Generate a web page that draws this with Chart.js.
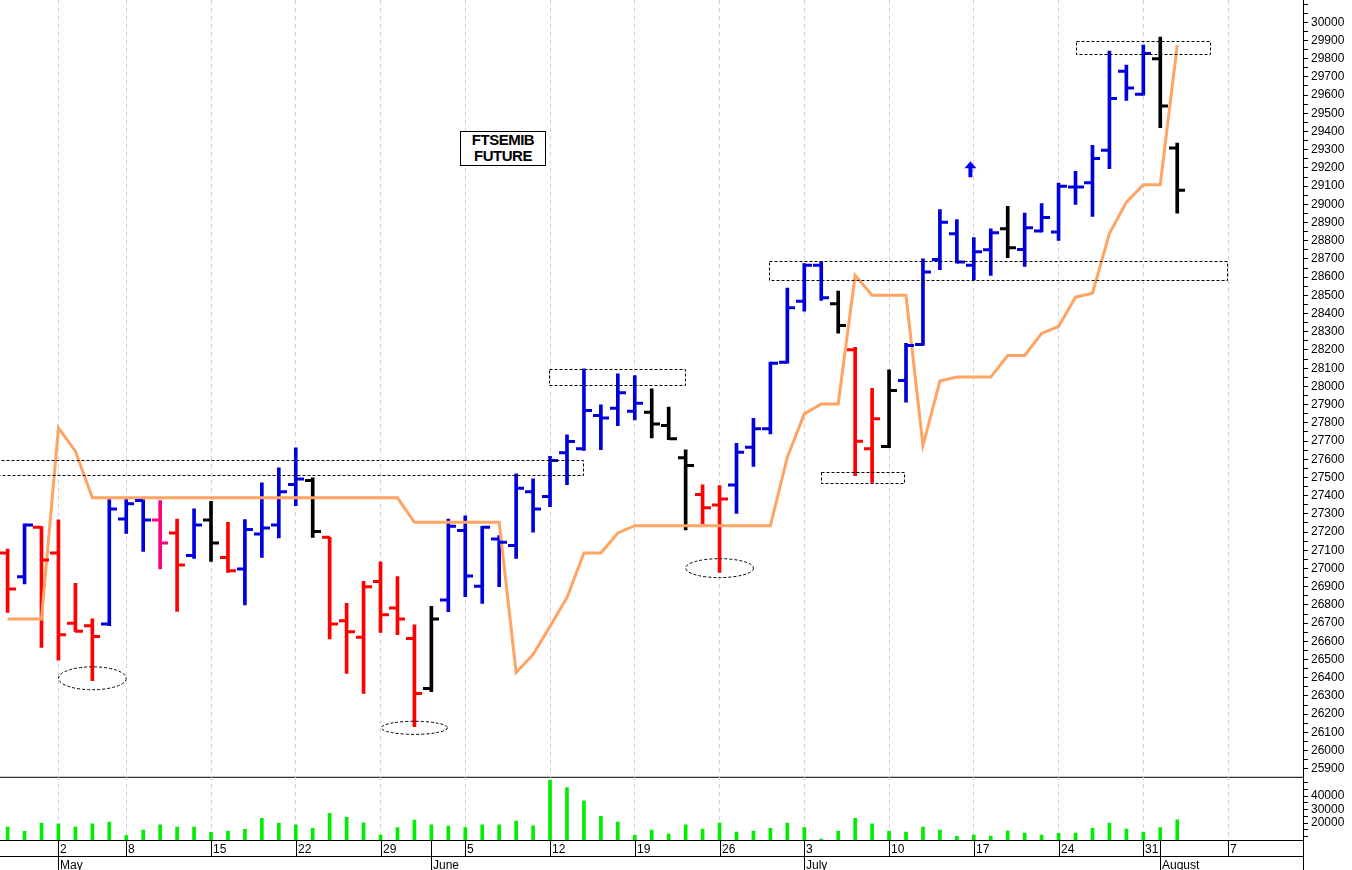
<!DOCTYPE html>
<html>
<head>
<meta charset="utf-8">
<script src="https://cdn.jsdelivr.net/npm/chart.js@4.4.0/dist/chart.umd.min.js"></script>
<style>
  body { margin: 0; background: #fff; }
  #wrap { position: relative; width: 1352px; height: 870px; overflow: hidden; }
  canvas { position: absolute; left: 0; }
  #title {
    position: absolute; left: 460px; top: 131px; width: 84px; height: 33px;
    border: 1px solid #000; background: #fff; text-align: center;
    font: bold 15px "Liberation Sans", Arial, sans-serif; line-height: 16px; letter-spacing: -0.5px;
  }
</style>
</head>
<body>
<div id="wrap">
  <canvas id="priceChart" width="1352" height="797" style="top:-10px"></canvas>
  <canvas id="volChart" width="1352" height="104" style="top:766px"></canvas>
  <div id="title">FTSEMIB<br>FUTURE</div>
</div>
<script>
// daily OHLC, trading day index 0 = 26 Apr
const opens = [27085,26955,27226,27085,26699,26686,26695,27272,27373,27267,
  27195,27071,27267,27061,26997,27190,27239,27461,27483,27171,
  26713,26622,26928,26783,26616,26341,26827,27208,26902,27162,
  27126,27422,27395,27635,27657,27840,27880,27864,27858,27785,
  27608,27406,27349,27459,27666,27767,28133,28467,28665,28454,
  28201,27657,27670,28032,28230,28697,28839,28665,28751,28866,
  28752,28853,28848,29095,29119,29297,29731,29604,29800,29309];
const highs = [27107,27245,27230,27267,26918,26723,27378,27378,27377,27373,
  27272,27327,27369,27254,27268,27470,27553,27663,27498,27171,
  26808,26929,27036,26955,26690,26792,27272,27289,27232,27181,
  27520,27492,27616,27734,28097,27899,28069,28060,27987,27886,
  27652,27459,27455,27688,27825,28133,28540,28674,28686,28523,
  28215,27990,28091,28237,28701,28971,28916,28818,28866,28989,
  28952,29004,29117,29181,29324,29842,29764,29874,29919,29337];
const lows = [26759,26915,26567,26497,26655,26384,26686,27193,27094,26997,
  26764,27056,27039,26979,26800,27061,27168,27345,27171,26613,
  26424,26314,26649,26636,26131,26323,26763,26845,26808,26900,
  27056,27199,27340,27461,27648,27652,27785,27816,27717,27707,
  27212,27245,26979,27303,27560,27739,28127,28413,28472,28292,
  27510,27473,27663,27913,28225,28641,28677,28585,28610,28707,
  28659,28848,28802,29000,28934,29196,29571,29599,29421,28952];
const closes = [26888,27239,27047,26636,26655,26627,27327,27355,27267,27140,
  27019,27239,27140,26988,27214,27223,27422,27492,27203,26695,
  26653,26900,26746,26723,26314,26723,27232,26959,27226,27144,
  27440,27327,27593,27697,27868,27827,27965,27908,27794,27712,
  27565,27333,27382,27638,27767,28127,28432,28665,28487,28335,
  27699,27822,27977,28225,28628,28902,28683,28740,28844,28762,
  28872,28927,29099,29095,29251,29581,29639,29828,29540,29077];
// r = down, b = up, k = neutral, m = signal
const barState = 'rbrrrrbbbmrbkrbbbbkrrrrrrkbbbbbbbbbbbbkkkrrbbbbbbkrrkbbbbbbkbbbbbbbbkk'.split('');
const trendLine = [26723,26723,26723,27772,27644,27388,27388,27388,27388,27388,
  27388,27388,27388,27388,27388,27388,27388,27388,27388,27388,
  27388,27388,27388,27388,27254,27254,27254,27254,27254,27254,
  26429,26527,26682,26840,27085,27085,27195,27235,27235,27235,
  27235,27235,27235,27235,27235,27235,27611,27849,27904,27904,
  28610,28500,28500,28500,27675,28029,28051,28051,28051,28170,
  28170,28291,28329,28490,28512,28839,29012,29108,29108,29874];
const volumes = [17080,13930,20000,19510,17080,19510,20730,10770,14900,18790,
  17080,17080,13200,14170,15380,23650,20000,18790,16110,27290,
  24370,20240,11250,16840,22190,18790,17810,16840,18790,18790,
  21460,18060,51600,46240,36520,25100,20730,11000,14900,12000,
  18790,15630,20000,13440,14170,16110,20000,16840,8340,14170,
  23650,19510,14170,13440,17080,14900,10280,11250,10520,14170,
  12710,11250,12470,12710,16110,20000,15630,13440,16840,22430];
// week start labels (index, day) and month labels
const weekIdx = [3,7,12,17,22,27,32,37,42,47,52,57,62,67,72];
const weekText = ['2','8','15','22','29','5','12','19','26','3','10','17','24','31','7'];
const monthIdx = [3,25,47,68];
const monthText = ['May','June','July','August'];
// annotations: dotted boxes [x0, x1, priceTop, priceBottom]
const boxes = [[-1,33.9,27597,27516],[31.95,39.95,28097,28009],[44.9,71.9,28690,28586],
  [63,70.9,29897,29828],[48,52.9,27528,27470]];
// dotted ellipses [xCenter, price, xRadius, priceRadius]
const ellipses = [[5,26397,2,63],[24,26125,1.95,36],[42,27002,2,52]];
const arrowAt = [56.8,29187];

const COLORS = { r: '#ff0000', b: '#0000dd', k: '#000000', m: '#ff0080' };
const XMIN = -0.448, XMAX = 76.42;
const FONT = '"Liberation Sans", Arial, sans-serif';

function weekGrid(scale) {
  scale.ticks = weekIdx.map(v => ({ value: v }));
}

const ohlcTicks = {
  id: 'ohlcTicks',
  afterDatasetsDraw(chart) {
    const { ctx, scales: { x, y } } = chart;
    ctx.save();
    ctx.lineWidth = 3;
    opens.forEach((o, i) => {
      const px = Math.round(x.getPixelForValue(i));
      ctx.strokeStyle = COLORS[barState[i]];
      ctx.beginPath();
      ctx.moveTo(px - 8, y.getPixelForValue(o));
      ctx.lineTo(px, y.getPixelForValue(o));
      ctx.moveTo(px, y.getPixelForValue(closes[i]));
      ctx.lineTo(px + 8, y.getPixelForValue(closes[i]));
      ctx.stroke();
    });
    ctx.restore();
  }
};

const annotations = {
  id: 'annotations',
  afterDraw(chart) {
    const { ctx, scales: { x, y }, chartArea } = chart;
    ctx.save();
    ctx.strokeStyle = '#000';
    ctx.lineWidth = 1;
    ctx.setLineDash([3, 2]);
    boxes.forEach(b => {
      const x0 = x.getPixelForValue(b[0]), x1 = x.getPixelForValue(b[1]);
      const y0 = y.getPixelForValue(b[2]), y1 = y.getPixelForValue(b[3]);
      ctx.strokeRect(Math.round(x0) + 0.5, Math.round(y0) + 0.5, Math.round(x1 - x0), Math.round(y1 - y0));
    });
    ellipses.forEach(e => {
      const cx = x.getPixelForValue(e[0]), cy = y.getPixelForValue(e[1]);
      const rx = x.getPixelForValue(e[0] + e[2]) - cx;
      const ry = y.getPixelForValue(e[1] - e[3]) - cy;
      ctx.beginPath();
      ctx.ellipse(cx, cy, rx, ry, 0, 0, Math.PI * 2);
      ctx.stroke();
    });
    ctx.setLineDash([]);
    // signal arrow
    const ax = x.getPixelForValue(arrowAt[0]), ay = y.getPixelForValue(arrowAt[1]);
    ctx.fillStyle = '#0000ee';
    ctx.beginPath();
    ctx.moveTo(ax, ay - 9);
    ctx.lineTo(ax + 6, ay - 2);
    ctx.lineTo(ax + 2, ay - 2);
    ctx.lineTo(ax + 2, ay + 7);
    ctx.lineTo(ax - 2, ay + 7);
    ctx.lineTo(ax - 2, ay - 2);
    ctx.lineTo(ax - 6, ay - 2);
    ctx.closePath();
    ctx.fill();
    // panel separator
    ctx.fillStyle = '#000';
    ctx.fillRect(0, chartArea.bottom, chartArea.right, 1);
    ctx.restore();
  }
};

const idx = opens.map((_, i) => i);
const gridX = {
  type: 'linear', min: XMIN, max: XMAX, offset: false,
  afterBuildTicks: weekGrid,
  ticks: { display: false },
  border: { display: false, dash: [4, 4] },
  grid: { color: '#d0d0d0', drawTicks: false, offset: false }
};

new Chart(document.getElementById('priceChart'), {
  type: 'bar',
  data: {
    datasets: [
      {
        type: 'line',
        data: idx.map(i => ({ x: i, y: trendLine[i] })),
        borderColor: '#ffa462',
        borderWidth: 3,
        pointRadius: 0,
        tension: 0,
        order: 0
      },
      {
        data: idx.map(i => ({ x: i, y: [lows[i], highs[i]] })),
        backgroundColor: barState.map(s => COLORS[s]),
        barThickness: 3,
        order: 1
      }
    ]
  },
  options: {
    responsive: false,
    animation: false,
    layout: { padding: 0 },
    plugins: { legend: { display: false }, tooltip: { enabled: false } },
    scales: {
      x: gridX,
      y: {
        position: 'right', min: 25856, max: 30121,
        afterFit(s) { s.width = 49; },
        afterBuildTicks(s) {
          const t = [];
          for (let v = 25900; v <= 30100; v += 50) t.push({ value: v });
          s.ticks = t;
        },
        ticks: {
          color: '#000', padding: 3, autoSkip: false, font: { family: FONT, size: 12 },
          callback: v => (v % 100 === 0 && v <= 30000) ? String(v) : ''
        },
        border: { display: true, color: '#000', width: 1 },
        grid: { drawOnChartArea: false, color: '#000', tickLength: 5 }
      }
    }
  },
  plugins: [ohlcTicks, annotations]
});

const dateAxis = {
  id: 'dateAxis',
  afterDraw(chart) {
    const { ctx, scales: { x }, chartArea } = chart;
    const b = chartArea.bottom, r = chartArea.right;
    ctx.save();
    ctx.fillStyle = '#000';
    ctx.fillRect(0, b, r + 1, 1);
    ctx.fillRect(0, b + 16, r + 1, 1);
    ctx.fillRect(r, 0, 1, chart.height);
    ctx.font = '12px ' + FONT;
    ctx.textBaseline = 'alphabetic';
    weekIdx.forEach((w, k) => {
      const px = Math.round(x.getPixelForValue(w));
      ctx.fillRect(px, b, 1, 16);
      ctx.fillText(weekText[k], px + 2, b + 13);
    });
    monthIdx.forEach((m, k) => {
      const px = Math.round(x.getPixelForValue(m));
      ctx.fillRect(px, b, 1, 30);
      ctx.fillText(monthText[k], px + 2, b + 29);
    });
    ctx.restore();
  }
};

new Chart(document.getElementById('volChart'), {
  type: 'bar',
  data: {
    datasets: [{
      data: idx.map(i => ({ x: i, y: volumes[i] })),
      backgroundColor: '#00ee00',
      barThickness: 3
    }]
  },
  options: {
    responsive: false,
    animation: false,
    layout: { padding: { bottom: 30 } },
    plugins: { legend: { display: false }, tooltip: { enabled: false } },
    scales: {
      x: gridX,
      y: {
        position: 'right', min: 7600, max: 54600,
        afterFit(s) { s.width = 49; },
        afterBuildTicks(s) {
          const t = [];
          for (let v = 10000; v <= 50000; v += 5000) t.push({ value: v });
          s.ticks = t;
        },
        ticks: {
          color: '#000', padding: 3, autoSkip: false, font: { family: FONT, size: 12 },
          callback: v => (v >= 20000 && v <= 40000 && v % 10000 === 0) ? String(v) : ''
        },
        border: { display: true, color: '#000' },
        grid: { drawOnChartArea: false, color: '#000', tickLength: 5 }
      }
    }
  },
  plugins: [dateAxis]
});
</script>
</body>
</html>
